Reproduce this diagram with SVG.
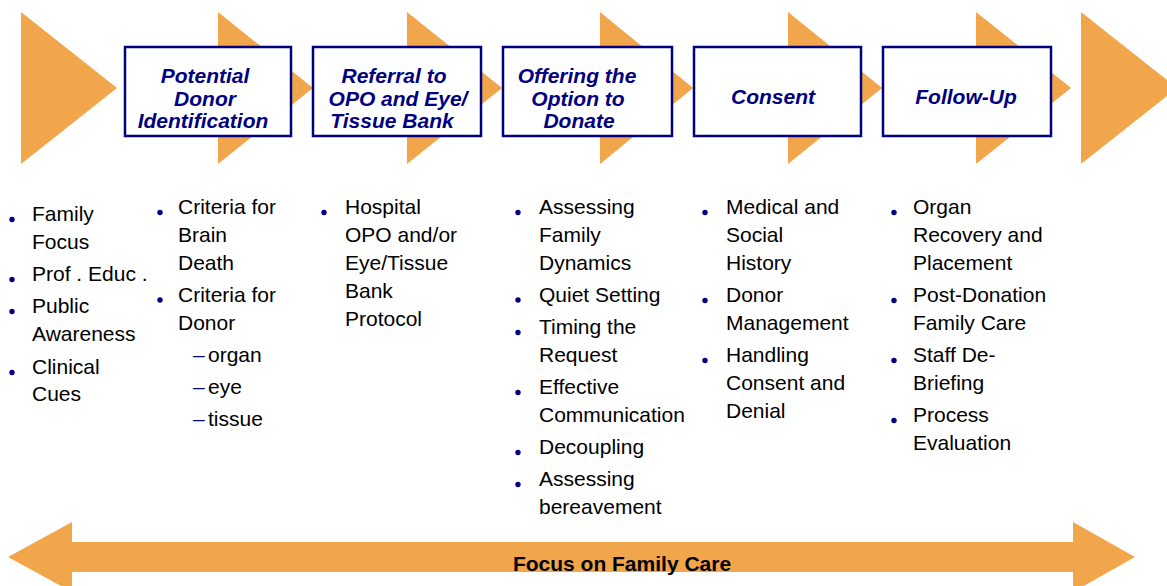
<svg xmlns="http://www.w3.org/2000/svg" width="1167" height="586" viewBox="0 0 1167 586">
<style>
.tri{fill:#F2A64B}
.box{fill:#fff;stroke:#000080;stroke-width:2.5}
.hd{font-family:"Liberation Sans",Arial,sans-serif;font-size:21px;font-weight:bold;font-style:italic;fill:#000080;text-anchor:middle}
.bl{font-family:"Liberation Sans",Arial,sans-serif;font-size:21px;fill:#000}
.dot{fill:#000080}
.dash{font-family:"Liberation Sans",Arial,sans-serif;font-size:21px;fill:#000080}
.ft{font-family:"Liberation Sans",Arial,sans-serif;font-size:21px;font-weight:bold;fill:#000;text-anchor:middle}
</style>
<rect width="1167" height="586" fill="#fff"/>
<g id="chevrons">
<polygon class="tri" points="21,12 117,88 21,164"/>
<polygon class="tri" points="218,12 313,88 218,164"/>
<polygon class="tri" points="407,12 502,88 407,164"/>
<polygon class="tri" points="600,12 693,88 600,164"/>
<polygon class="tri" points="788,12 882,88 788,164"/>
<polygon class="tri" points="976,12 1071,88 976,164"/>
<polygon class="tri" points="1081,12 1177,88 1081,164"/>
</g>
<g id="connectors"></g>
<g id="step1">
<rect class="box" x="125" y="47" width="166" height="89"/>
<text class="hd" x="205" y="83">Potential</text>
<text class="hd" x="205" y="106">Donor</text>
<text class="hd" x="203" y="128">Identification</text>
</g>
<g id="step2">
<rect class="box" x="313" y="47" width="168" height="89"/>
<text class="hd" x="394" y="83">Referral to</text>
<text class="hd" x="398" y="106">OPO and Eye/</text>
<text class="hd" x="392" y="128">Tissue Bank</text>
</g>
<g id="step3">
<rect class="box" x="503" y="47" width="169" height="89"/>
<text class="hd" x="577" y="83">Offering the</text>
<text class="hd" x="578" y="106">Option to</text>
<text class="hd" x="579" y="128">Donate</text>
</g>
<g id="step4">
<rect class="box" x="694" y="47" width="167" height="89"/>
<text class="hd" x="773" y="104">Consent</text>
</g>
<g id="step5">
<rect class="box" x="883" y="47" width="168" height="89"/>
<text class="hd" x="966" y="104">Follow-Up</text>
</g>
<g id="list1">
<circle class="dot" cx="12" cy="219.5" r="2.7"/>
<circle class="dot" cx="12" cy="279.5" r="2.7"/>
<circle class="dot" cx="12" cy="311.5" r="2.7"/>
<circle class="dot" cx="12" cy="372.5" r="2.7"/>
<text class="bl" x="32" y="221">Family</text>
<text class="bl" x="32" y="249">Focus</text>
<text class="bl" x="32" y="281">Prof . Educ .</text>
<text class="bl" x="32" y="313">Public</text>
<text class="bl" x="32" y="341">Awareness</text>
<text class="bl" x="32" y="374">Clinical</text>
<text class="bl" x="32" y="401">Cues</text>
</g>
<g id="list2">
<circle class="dot" cx="160" cy="212.5" r="2.7"/>
<circle class="dot" cx="160" cy="300" r="2.7"/>
<text class="bl" x="178" y="214">Criteria for</text>
<text class="bl" x="178" y="242">Brain</text>
<text class="bl" x="178" y="270">Death</text>
<text class="bl" x="178" y="302">Criteria for</text>
<text class="bl" x="178" y="330">Donor</text>
<text class="dash" x="193" y="362">–</text>
<text class="bl" x="208" y="362">organ</text>
<text class="dash" x="193" y="394">–</text>
<text class="bl" x="208" y="394">eye</text>
<text class="dash" x="193" y="426">–</text>
<text class="bl" x="208" y="426">tissue</text>
</g>
<g id="list3">
<circle class="dot" cx="324" cy="212.5" r="2.7"/>
<text class="bl" x="345" y="214">Hospital</text>
<text class="bl" x="345" y="242">OPO and/or</text>
<text class="bl" x="345" y="270">Eye/Tissue</text>
<text class="bl" x="345" y="298">Bank</text>
<text class="bl" x="345" y="326">Protocol</text>
</g>
<g id="list4">
<circle class="dot" cx="518" cy="212.5" r="2.7"/>
<circle class="dot" cx="518" cy="300" r="2.7"/>
<circle class="dot" cx="518" cy="332.5" r="2.7"/>
<circle class="dot" cx="518" cy="392.5" r="2.7"/>
<circle class="dot" cx="518" cy="452.5" r="2.7"/>
<circle class="dot" cx="518" cy="484.5" r="2.7"/>
<text class="bl" x="539" y="214">Assessing</text>
<text class="bl" x="539" y="242">Family</text>
<text class="bl" x="539" y="270">Dynamics</text>
<text class="bl" x="539" y="302">Quiet Setting</text>
<text class="bl" x="539" y="334">Timing the</text>
<text class="bl" x="539" y="362">Request</text>
<text class="bl" x="539" y="394">Effective</text>
<text class="bl" x="539" y="422">Communication</text>
<text class="bl" x="539" y="454">Decoupling</text>
<text class="bl" x="539" y="486">Assessing</text>
<text class="bl" x="539" y="514">bereavement</text>
</g>
<g id="list5">
<circle class="dot" cx="705" cy="212.5" r="2.7"/>
<circle class="dot" cx="705" cy="300.5" r="2.7"/>
<circle class="dot" cx="705" cy="360.5" r="2.7"/>
<text class="bl" x="726" y="214">Medical and</text>
<text class="bl" x="726" y="242">Social</text>
<text class="bl" x="726" y="270">History</text>
<text class="bl" x="726" y="302">Donor</text>
<text class="bl" x="726" y="330">Management</text>
<text class="bl" x="726" y="362">Handling</text>
<text class="bl" x="726" y="390">Consent and</text>
<text class="bl" x="726" y="418">Denial</text>
</g>
<g id="list6">
<circle class="dot" cx="894" cy="212.5" r="2.7"/>
<circle class="dot" cx="894" cy="300.5" r="2.7"/>
<circle class="dot" cx="894" cy="360.5" r="2.7"/>
<circle class="dot" cx="894" cy="420.5" r="2.7"/>
<text class="bl" x="913" y="214">Organ</text>
<text class="bl" x="913" y="242">Recovery and</text>
<text class="bl" x="913" y="270">Placement</text>
<text class="bl" x="913" y="302">Post-Donation</text>
<text class="bl" x="913" y="330">Family Care</text>
<text class="bl" x="913" y="362">Staff De-</text>
<text class="bl" x="913" y="390">Briefing</text>
<text class="bl" x="913" y="422">Process</text>
<text class="bl" x="913" y="450">Evaluation</text>
</g>
<g id="family-care-arrow">
<polygon class="tri" points="8,557 72,522 72,542 1073,542 1073,522 1135,557 1073,592 1073,572 72,572 72,592"/>
<text class="ft" x="622" y="571">Focus on Family Care</text>
</g>
</svg>
